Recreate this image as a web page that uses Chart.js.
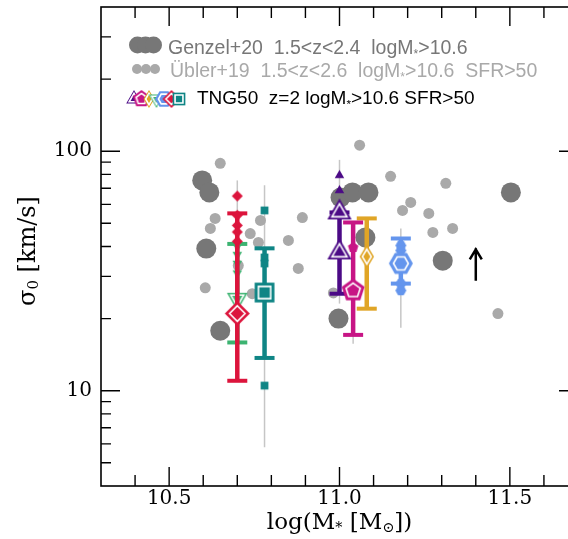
<!DOCTYPE html>
<html>
<head>
<meta charset="utf-8">
<script src="https://cdn.jsdelivr.net/npm/chart.js@4.4.1/dist/chart.umd.min.js"></script>
<style>
html, body { margin: 0; padding: 0; background: #fff; overflow: hidden; }
#caixa { width: 568px; height: 539px; overflow: hidden; }
canvas { display: block; }
</style>
</head>
<body>
<div id="caixa"><canvas id="grafico" width="590" height="539" style="width:590px;height:539px"></canvas></div>
<script>
// Genzel+20 (pontos grandes, cinza escuro)
const genzelMassa = [10.597, 10.618, 10.609, 10.650, 11.003, 11.038, 11.085, 11.076, 10.997, 11.303, 11.503];
const genzelSigma = [75.5, 67.3, 39.2, 17.8, 64.1, 67.3, 67.3, 43.6, 20.0, 34.9, 67.3];

// Übler+19 (pontos pequenos, cinza claro)
const ublerMassa = [10.650, 10.635, 10.621, 10.606, 10.703, 10.738, 10.762, 10.768, 10.744, 10.891, 10.850, 10.879,
                    10.982, 11.059, 11.150, 11.312, 11.185, 11.209, 11.262, 11.274, 11.332, 11.465];
const ublerSigma = [89, 52.4, 47.6, 26.9, 33.3, 45.3, 41.6, 51.4, 25.4, 52.8, 42.4, 32.4,
                    25.6, 106, 78.5, 73.4, 56.6, 61.1, 55.0, 45.8, 47.6, 21.0];

// TNG50 por grupo: vermelho, verde, teal, roxo, magenta, laranja, azul
const tngMassa   = [10.70, 10.70, 10.78, 11.00, 11.04, 11.08, 11.18];
const tngMediana = [21.0, 24.2, 25.7, 37.8, 26.2, 36.3, 34.0];
const tngP16     = [11.0, 15.9, 13.7, 25.4, 17.1, 22.0, 28.0];
const tngP84     = [55.0, 41.0, 39.3, 55.5, 50.4, 52.4, 43.2];
const tngMin     = [11.0, 15.9, 5.8, 23.1, 15.7, 22.0, 18.3];
const tngMax     = [75.5, 41.0, 72.0, 92.0, 50.4, 52.4, 47.6];

// galáxias individuais de cada grupo
const pontosVermelho = [65, 54, 49, 46, 42];
const pontosVerde = [40, 37, 34, 31];
const pontosTeal = [56.6, 36, 34, 10.5];
const pontosRoxo = [79.3, 68.6, 55.5];
const pontosMagenta = [39.6];
const pontosLaranja = [];
const pontosAzul = [40.4, 38.5, 28.0, 26.2];
const tngPontos = [pontosVermelho, pontosVerde, pontosTeal, pontosRoxo, pontosMagenta, pontosLaranja, pontosAzul];

// seta (limite inferior)
const setaMassa = 11.40;
const setaDe = 28.8;
const setaAte = 39.3;

// eixos
const ticksX = [10.5, 11.0, 11.5];
const ticksY = [10, 100];

// estilos
const tngCores = ['#dc143c', '#3cb371', '#0f8585', '#4b0a86', '#c71585', '#e0a526', '#6495ed'];
const tngFormas = ['losango', 'trianguloBaixo', 'quadrado', 'triangulo', 'pentagono', 'losangoFino', 'hexagono'];
const tngRaio = [12.5, 12, 14, 14, 12, 12, 12];
const tngCamada = [10, 20, 10, 10, 10, 10, 10];

function caminho(g, forma, cx, cy, r) {
    const def = {
        triangulo: [3, -Math.PI / 2, 1],
        trianguloBaixo: [3, Math.PI / 2, 1],
        losango: [4, -Math.PI / 2, 1],
        quadrado: [4, -Math.PI / 4, 1],
        pentagono: [5, -Math.PI / 2, 1],
        hexagono: [6, 0, 1],
        losangoFino: [4, -Math.PI / 2, 0.6]
    }[forma];
    const [lados, rot, ex] = def;
    g.beginPath();
    for (let i = 0; i < lados; i++) {
        const a = rot + i * 2 * Math.PI / lados;
        const px = cx + r * Math.cos(a) * ex;
        const py = cy + r * Math.sin(a);
        if (i === 0) g.moveTo(px, py); else g.lineTo(px, py);
    }
    g.closePath();
}

// marcador desenhado num canvas pequeno, usado como pointStyle
function criarMarcador(forma, cor, r, contorno) {
    const tam = Math.ceil(r * 2 + 4);
    const c = document.createElement('canvas');
    c.width = tam;
    c.height = tam;
    const g = c.getContext('2d');
    caminho(g, forma, tam / 2, tam / 2, r);
    g.fillStyle = cor;
    g.fill();
    if (contorno) {
        caminho(g, forma, tam / 2, tam / 2, r * 0.62);
        g.strokeStyle = '#fff';
        g.lineWidth = 1.6;
        g.stroke();
    }
    return c;
}

const datasets = [];

// linhas finas cinza (min-max)
tngMassa.forEach((m, i) => {
    datasets.push({
        data: [{ x: m, y: tngMin[i] }, { x: m, y: tngMax[i] }],
        showLine: true, borderColor: '#c6c6c6', borderWidth: 1.5, pointRadius: 0, order: 40
    });
});

datasets.push({
    data: genzelMassa.map((m, i) => ({ x: m, y: genzelSigma[i] })),
    pointRadius: 10, backgroundColor: '#777777', borderWidth: 0, order: 31
});
datasets.push({
    data: ublerMassa.map((m, i) => ({ x: m, y: ublerSigma[i] })),
    pointRadius: 5.5, backgroundColor: '#a9a9a9', borderWidth: 0, order: 30
});

tngMassa.forEach((m, i) => {
    const cor = tngCores[i];
    const base = tngCamada[i];
    // barra de erro
    datasets.push({
        data: [{ x: m, y: tngP16[i] }, { x: m, y: tngP84[i] }],
        showLine: true, borderColor: cor, borderWidth: 4.5,
        pointStyle: 'line', pointRadius: 10, pointBorderWidth: 4, pointBorderColor: cor,
        order: base + 2
    });
    // galáxias individuais
    const pequeno = criarMarcador(tngFormas[i], cor, 5.5, false);
    const grande = criarMarcador(tngFormas[i], cor, tngRaio[i], true);
    datasets.push({
        data: tngPontos[i].map(s => ({ x: m, y: s })),
        pointStyle: ctx => (i === 3 && ctx.dataIndex === 2) ? grande : pequeno,
        pointRadius: 6, order: base + 1
    });
    // mediana
    datasets.push({
        data: [{ x: m, y: tngMediana[i] }],
        pointStyle: grande, pointRadius: tngRaio[i], order: base
    });
});

function desenharPartes(ctx, partes, x, y, tam, familia, alinhar) {
    const medir = () => partes.reduce((w, [t, sub]) => {
        ctx.font = `${sub ? tam * 0.62 : tam}px ${familia}`;
        return w + ctx.measureText(t).width;
    }, 0);
    let cx = alinhar === 'center' ? x - medir() / 2 : x;
    partes.forEach(([t, sub]) => {
        ctx.font = `${sub ? tam * 0.62 : tam}px ${familia}`;
        ctx.fillText(t, cx, sub ? y + tam * 0.22 : y);
        cx += ctx.measureText(t).width;
    });
}

const pluginMoldura = {
    id: 'moldura',
    afterDraw(chart) {
        const { ctx, chartArea: a, scales: { x, y } } = chart;
        ctx.save();
        ctx.strokeStyle = '#000';
        ctx.lineWidth = 1.6;
        ctx.strokeRect(a.left, a.top, a.right - a.left, a.bottom - a.top);

        // ticks para dentro, nos quatro lados
        ctx.lineWidth = 1.4;
        ctx.beginPath();
        for (let k = 104; k <= 116; k++) {
            const v = k / 10;
            const px = x.getPixelForValue(v);
            const len = k % 5 === 0 ? 19 : 11;
            ctx.moveTo(px, a.bottom); ctx.lineTo(px, a.bottom - len);
            ctx.moveTo(px, a.top); ctx.lineTo(px, a.top + len);
        }
        [1, 10, 100].forEach(dec => {
            for (let d = 1; d <= 9; d++) {
                const v = d * dec;
                if (v <= 4 || v >= 400) continue;
                const py = y.getPixelForValue(v);
                const len = d === 1 ? 19 : 10;
                ctx.moveTo(a.left, py); ctx.lineTo(a.left + len, py);
                ctx.moveTo(a.right, py); ctx.lineTo(a.right - len, py);
            }
        });
        ctx.stroke();

        // seta
        const sx = x.getPixelForValue(setaMassa);
        const s1 = y.getPixelForValue(setaDe);
        const s2 = y.getPixelForValue(setaAte);
        ctx.lineWidth = 2.5;
        ctx.beginPath();
        ctx.moveTo(sx, s1); ctx.lineTo(sx, s2);
        ctx.moveTo(sx - 6, s2 + 11); ctx.lineTo(sx, s2 + 1); ctx.lineTo(sx + 6, s2 + 11);
        ctx.stroke();

        // títulos dos eixos
        ctx.fillStyle = '#000';
        ctx.textBaseline = 'middle';
        desenharPartes(ctx, [['log(M'], ['*', true], [' [M'], ['⊙', true], ['])']],
            (a.left + a.right) / 2, 523, 23, "'DejaVu Serif'", 'center');
        ctx.save();
        ctx.translate(29, 251);
        ctx.rotate(-Math.PI / 2);
        desenharPartes(ctx, [['σ'], ['0', true], [' [km/s]']], 0, 0, 24, "'DejaVu Serif'", 'center');
        ctx.restore();

        // legenda
        ctx.textBaseline = 'alphabetic';
        const fonte = "'Liberation Sans', Arial, sans-serif";
        ctx.fillStyle = '#777777';
        [137.5, 145.5, 153.5].forEach(cx => { ctx.beginPath(); ctx.arc(cx, 45, 8.5, 0, 2 * Math.PI); ctx.fill(); });
        desenharPartes(ctx, [['Genzel+20  1.5<z<2.4  logM'], ['*', true], ['>10.6']], 168, 54, 19.5, fonte);
        ctx.fillStyle = '#a9a9a9';
        [137, 146, 155].forEach(cx => { ctx.beginPath(); ctx.arc(cx, 69, 5, 0, 2 * Math.PI); ctx.fill(); });
        desenharPartes(ctx, [['Übler+19  1.5<z<2.6  logM'], ['*', true], ['>10.6  SFR>50']], 170, 77, 19.5, fonte);
        const ordemLeg = [3, 4, 5, 1, 6, 0, 2];
        ordemLeg.forEach((gi, j) => {
            const m = criarMarcador(tngFormas[gi], tngCores[gi], 9, true);
            ctx.drawImage(m, 134 + j * 7.5 - m.width / 2, 99 - m.height / 2);
        });
        ctx.fillStyle = '#000';
        desenharPartes(ctx, [['TNG50  z=2 logM'], ['*', true], ['>10.6 SFR>50']], 197, 104, 19, fonte);
        ctx.restore();
    }
};

// remove o espaço extra que o Chart.js reserva para meia etiqueta
function semPadding(s) {
    s.paddingTop = 0;
    s.paddingBottom = 0;
    s.paddingLeft = 0;
    s.paddingRight = 0;
}

new Chart(document.getElementById('grafico'), {
    type: 'scatter',
    data: { datasets: datasets },
    options: {
        responsive: false,
        animation: false,
        devicePixelRatio: 1,
        events: [],
        layout: { autoPadding: false, padding: { top: 7, right: 12, left: 0, bottom: 0 } },
        plugins: { legend: { display: false }, tooltip: { enabled: false } },
        scales: {
            x: {
                type: 'linear', min: 10.3, max: 11.7,
                afterBuildTicks: s => { s.ticks = ticksX.map(v => ({ value: v })); },
                afterFit: s => { s.height = 53; semPadding(s); },
                grid: { display: false, drawTicks: false },
                border: { display: false },
                ticks: {
                    padding: 1, color: '#000', maxRotation: 0, autoSkip: false,
                    font: { family: "'DejaVu Serif'", size: 20 },
                    callback: v => v.toFixed(1)
                }
            },
            y: {
                type: 'logarithmic', min: 4, max: 400,
                afterBuildTicks: s => { s.ticks = ticksY.map(v => ({ value: v })); },
                afterFit: s => { s.width = 101; semPadding(s); },
                grid: { display: false, drawTicks: false },
                border: { display: false },
                ticks: {
                    padding: 9, color: '#000', autoSkip: false,
                    font: { family: "'DejaVu Serif'", size: 20 },
                    callback: v => String(v)
                }
            }
        }
    },
    plugins: [pluginMoldura]
});
</script>
</body>
</html>
